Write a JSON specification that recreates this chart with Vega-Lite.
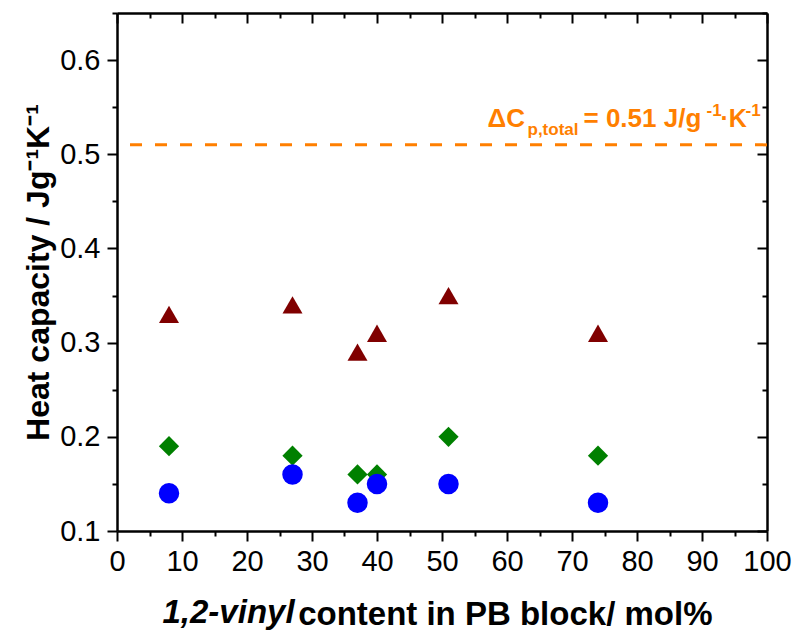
{
  "$schema": "https://vega.github.io/schema/vega-lite/v6.json",
  "width": 650,
  "height": 518,
  "autosize": "none",
  "padding": {"left": 117, "top": 13, "right": 29, "bottom": 100},
  "background": "white",
  "config": {
    "view": {"stroke": null},
    "font": "Liberation Sans",
    "axis": {
      "grid": false,
      "domainColor": "black",
      "domainWidth": 2.5,
      "tickColor": "black",
      "tickWidth": 2,
      "labelColor": "black",
      "labelFont": "Liberation Sans",
      "labelFontSize": 29,
      "labelOverlap": false,
      "labelFlush": false,
      "titleColor": "black",
      "titleFont": "Liberation Sans",
      "titleFontSize": 32,
      "titleFontWeight": "bold"
    }
  },
  "datasets": {
    "cp": [
      {"vinyl": 8, "series": "sum", "cp": 0.33},
      {"vinyl": 27, "series": "sum", "cp": 0.34},
      {"vinyl": 37, "series": "sum", "cp": 0.29},
      {"vinyl": 40, "series": "sum", "cp": 0.31},
      {"vinyl": 51, "series": "sum", "cp": 0.35},
      {"vinyl": 74, "series": "sum", "cp": 0.31},
      {"vinyl": 8, "series": "high", "cp": 0.19},
      {"vinyl": 27, "series": "high", "cp": 0.18},
      {"vinyl": 37, "series": "high", "cp": 0.16},
      {"vinyl": 40, "series": "high", "cp": 0.16},
      {"vinyl": 51, "series": "high", "cp": 0.20},
      {"vinyl": 74, "series": "high", "cp": 0.18},
      {"vinyl": 8, "series": "low", "cp": 0.14},
      {"vinyl": 27, "series": "low", "cp": 0.16},
      {"vinyl": 37, "series": "low", "cp": 0.13},
      {"vinyl": 40, "series": "low", "cp": 0.15},
      {"vinyl": 51, "series": "low", "cp": 0.15},
      {"vinyl": 74, "series": "low", "cp": 0.13}
    ],
    "anchor": [{"total": 0.51}]
  },
  "resolve": {"axis": {"x": "independent", "y": "independent"}},
  "layer": [
    {
      "data": {"name": "cp"},
      "mark": {"type": "point", "filled": true, "opacity": 1, "strokeWidth": 0},
      "encoding": {
        "x": {
          "field": "vinyl",
          "type": "quantitative",
          "scale": {"domain": [0, 100], "nice": false, "zero": false},
          "axis": {
            "orient": "bottom",
            "values": [0, 5, 10, 15, 20, 25, 30, 35, 40, 45, 50, 55, 60, 65, 70, 75, 80, 85, 90, 95, 100],
            "labelExpr": "datum.value % 10 === 0 ? datum.label : ''",
            "tickSize": {"condition": {"test": "datum.value % 10 !== 0", "value": 5}, "value": 10},
            "labelPadding": 6,
            "title": "content in PB block/ mol%",
            "titleFontSize": 33,
            "titleAnchor": "end",
            "titleAlign": "right",
            "titleX": 595,
            "titlePadding": 22
          }
        },
        "y": {
          "field": "cp",
          "type": "quantitative",
          "scale": {"domain": [0.1, 0.65], "nice": false, "zero": false},
          "axis": {
            "orient": "left",
            "values": [0.1, 0.15, 0.2, 0.25, 0.3, 0.35, 0.4, 0.45, 0.5, 0.55, 0.6, 0.65],
            "labelExpr": "round(datum.value * 100) % 10 === 0 ? format(datum.value, '.1f') : ''",
            "tickSize": {"condition": {"test": "round(datum.value * 100) % 10 !== 0", "value": 5}, "value": 10},
            "labelPadding": 7,
            "title": "Heat capacity / Jg⁻¹K⁻¹",
            "titlePadding": 4
          }
        },
        "shape": {
          "field": "series",
          "type": "nominal",
          "scale": {"domain": ["sum", "high", "low"], "range": ["triangle-up", "diamond", "circle"]},
          "legend": null
        },
        "color": {
          "field": "series",
          "type": "nominal",
          "scale": {"domain": ["sum", "high", "low"], "range": ["#800000", "#008000", "#0000FF"]},
          "legend": null
        },
        "size": {
          "field": "series",
          "type": "nominal",
          "scale": {"domain": ["sum", "high", "low"], "range": [400, 420, 289]},
          "legend": null
        }
      }
    },
    {
      "data": {"name": "cp"},
      "mark": {"type": "point", "opacity": 0},
      "encoding": {
        "x": {
          "field": "vinyl",
          "type": "quantitative",
          "axis": {
            "orient": "top",
            "values": [0, 5, 10, 15, 20, 25, 30, 35, 40, 45, 50, 55, 60, 65, 70, 75, 80, 85, 90, 95, 100],
            "labels": false,
            "title": null,
            "tickSize": {"condition": {"test": "datum.value % 10 !== 0", "value": -5}, "value": -10}
          }
        },
        "y": {
          "field": "cp",
          "type": "quantitative",
          "axis": {
            "orient": "right",
            "values": [0.1, 0.15, 0.2, 0.25, 0.3, 0.35, 0.4, 0.45, 0.5, 0.55, 0.6, 0.65],
            "labels": false,
            "title": null,
            "tickSize": {"condition": {"test": "round(datum.value * 100) % 10 !== 0", "value": -5}, "value": -10}
          }
        }
      }
    },
    {
      "data": {"name": "anchor"},
      "mark": {"type": "rule", "color": "#FF7F00", "strokeWidth": 3, "strokeDash": [12, 13]},
      "encoding": {"y": {"field": "total", "type": "quantitative", "axis": null}}
    },
    {
      "data": {"name": "anchor"},
      "mark": {"type": "text", "text": "1,2-vinyl", "font": "Liberation Sans", "fontSize": 33, "fontWeight": "bold", "fontStyle": "italic", "align": "left", "baseline": "alphabetic", "dy": 92, "color": "black"},
      "encoding": {
        "x": {"datum": 7, "type": "quantitative", "axis": null},
        "y": {"datum": 0.1, "type": "quantitative", "axis": null}
      }
    },
    {
      "data": {"name": "anchor"},
      "mark": {"type": "text", "text": "ΔC", "font": "Liberation Sans", "fontSize": 26, "fontWeight": "bold", "align": "left", "baseline": "alphabetic", "dy": -18, "color": "#FF7F00"},
      "encoding": {
        "x": {"datum": 57, "type": "quantitative", "axis": null},
        "y": {"field": "total", "type": "quantitative", "axis": null}
      }
    },
    {
      "data": {"name": "anchor"},
      "mark": {"type": "text", "text": "p,total", "font": "Liberation Sans", "fontSize": 17, "fontWeight": "bold", "align": "left", "baseline": "alphabetic", "dx": 40, "dy": -10, "color": "#FF7F00"},
      "encoding": {
        "x": {"datum": 57, "type": "quantitative", "axis": null},
        "y": {"field": "total", "type": "quantitative", "axis": null}
      }
    },
    {
      "data": {"name": "anchor"},
      "mark": {"type": "text", "text": "= 0.51 J/g", "font": "Liberation Sans", "fontSize": 26, "fontWeight": "bold", "align": "left", "baseline": "alphabetic", "dx": 96, "dy": -18, "color": "#FF7F00"},
      "encoding": {
        "x": {"datum": 57, "type": "quantitative", "axis": null},
        "y": {"field": "total", "type": "quantitative", "axis": null}
      }
    },
    {
      "data": {"name": "anchor"},
      "mark": {"type": "text", "text": "-1", "font": "Liberation Sans", "fontSize": 17, "fontWeight": "bold", "align": "left", "baseline": "alphabetic", "dx": 219, "dy": -29, "color": "#FF7F00"},
      "encoding": {
        "x": {"datum": 57, "type": "quantitative", "axis": null},
        "y": {"field": "total", "type": "quantitative", "axis": null}
      }
    },
    {
      "data": {"name": "anchor"},
      "mark": {"type": "text", "text": "·K", "font": "Liberation Sans", "fontSize": 25, "fontWeight": "bold", "align": "left", "baseline": "alphabetic", "dx": 233, "dy": -18, "color": "#FF7F00"},
      "encoding": {
        "x": {"datum": 57, "type": "quantitative", "axis": null},
        "y": {"field": "total", "type": "quantitative", "axis": null}
      }
    },
    {
      "data": {"name": "anchor"},
      "mark": {"type": "text", "text": "-1", "font": "Liberation Sans", "fontSize": 17, "fontWeight": "bold", "align": "left", "baseline": "alphabetic", "dx": 258, "dy": -29, "color": "#FF7F00"},
      "encoding": {
        "x": {"datum": 57, "type": "quantitative", "axis": null},
        "y": {"field": "total", "type": "quantitative", "axis": null}
      }
    }
  ]
}
